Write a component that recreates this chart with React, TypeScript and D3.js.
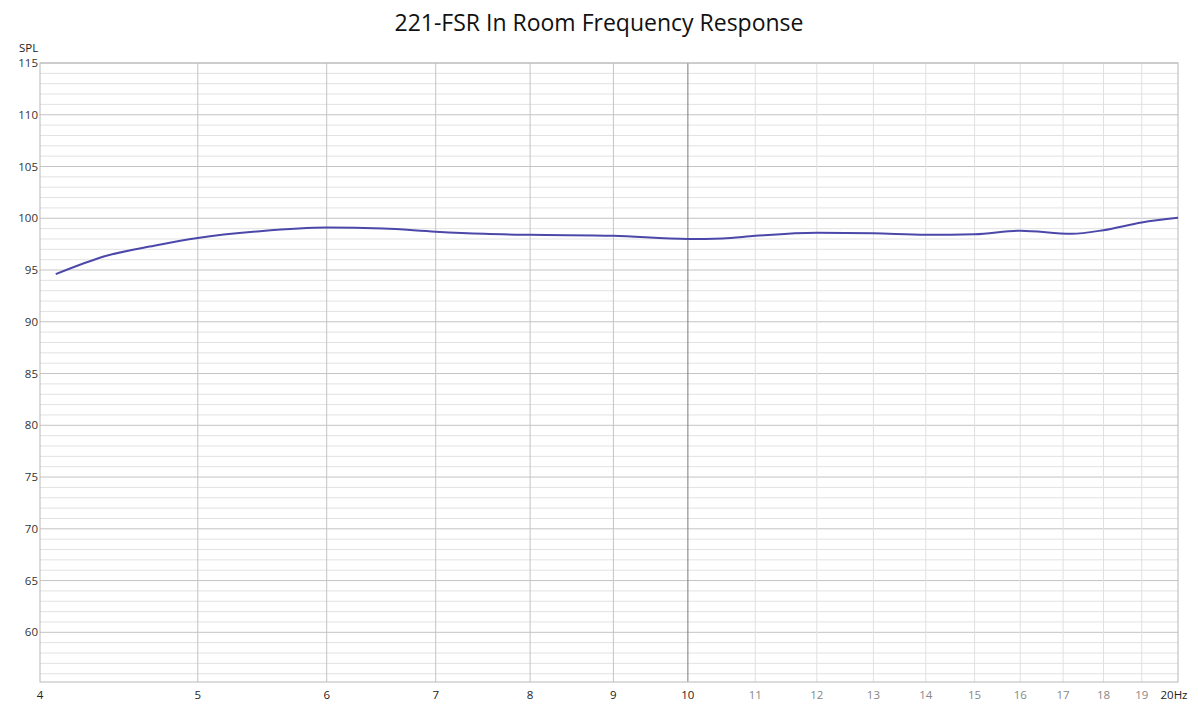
import * as React from "react"
import * as d3 from "d3"

const freqs = [4.09, 4.4, 4.7, 5.0, 5.46, 6.0, 6.5, 7.0, 7.5, 8.0, 9.0, 10.0, 10.5, 11, 12, 13, 14, 15, 16, 17.2, 18, 19, 20]
const spl = [94.6, 96.4, 97.35, 98.1, 98.75, 99.1, 99.0, 98.7, 98.5, 98.4, 98.3, 98.0, 98.05, 98.3, 98.6, 98.55, 98.4, 98.45, 98.8, 98.5, 98.85, 99.6, 100.05]
const xTicks = [4, 5, 6, 7, 8, 9, 10, 11, 12, 13, 14, 15, 16, 17, 18, 19, 20]
const yTicks = [60, 65, 70, 75, 80, 85, 90, 95, 100, 105, 110, 115]

export default function App() {
    const [w, h] = [1198, 707]
    const m = { top: 63, bottom: 25, left: 40, right: 20 }
    const [bw, bh] = [w - m.left - m.right, h - m.top - m.bottom]

    const xScale = d3.scaleLog().domain([4, 20]).range([0, bw])
    const yScale = d3.scaleLinear().domain([55.2, 115]).range([bh, 0])

    const minorY = d3.range(56, 116).filter(v => v % 5 !== 0)

    const line = d3
        .line<number>()
        .x((_, i) => xScale(freqs[i]))
        .y(d => yScale(d))
        .curve(d3.curveMonotoneX)

    const font = "'Segoe UI', 'Open Sans', 'Noto Sans', sans-serif"

    const vColor = (f: number) => (f === 10 ? "#7a7a7a" : f < 10 ? "#c4c4c4" : "#e0e0e0")

    return (
        <svg width={w} height={h} style={{ position: "absolute", left: 0, top: 0, background: "#fff" }}>
            <text x={599} y={31} fontSize={23} textAnchor="middle" fill="#111" fontFamily={font}>
                221-FSR In Room Frequency Response
            </text>
            <text x={19} y={52} fontSize={11.5} fill="#222" fontFamily={font}>SPL</text>
            <g transform={`translate(${m.left},${m.top})`}>
                {minorY.map(v => (
                    <line key={"m" + v} x1={0} x2={bw} y1={yScale(v)} y2={yScale(v)} stroke="#e2e2e2" strokeWidth={1} />
                ))}
                {yTicks.map(v => (
                    <g key={"y" + v}>
                        <line x1={0} x2={bw} y1={yScale(v)} y2={yScale(v)} stroke="#c4c4c4" strokeWidth={1} />
                        <text x={-2} y={yScale(v) + 4} fontSize={11.5} textAnchor="end" fill="#333" fontFamily={font}>{v}</text>
                    </g>
                ))}
                {xTicks.map(f => (
                    <g key={"x" + f}>
                        {f > 4 && f < 20 && (
                            <line x1={xScale(f)} x2={xScale(f)} y1={0} y2={bh} stroke={vColor(f)} strokeWidth={1} />
                        )}
                        <text
                            x={xScale(f) + (f === 20 ? -4 : 0)}
                            y={bh + 17}
                            fontSize={11.5}
                            textAnchor="middle"
                            fill={f > 10 && f < 20 ? "#888" : "#222"}
                            fontFamily={font}
                        >
                            {f === 20 ? "20Hz" : f}
                        </text>
                    </g>
                ))}
                <rect x={0} y={0} width={bw} height={bh} fill="none" stroke="#b8b8b8" strokeWidth={1} />
                <path d={line(spl) ?? ""} fill="none" stroke="#4b48aa" strokeWidth={2} />
            </g>
        </svg>
    )
}
